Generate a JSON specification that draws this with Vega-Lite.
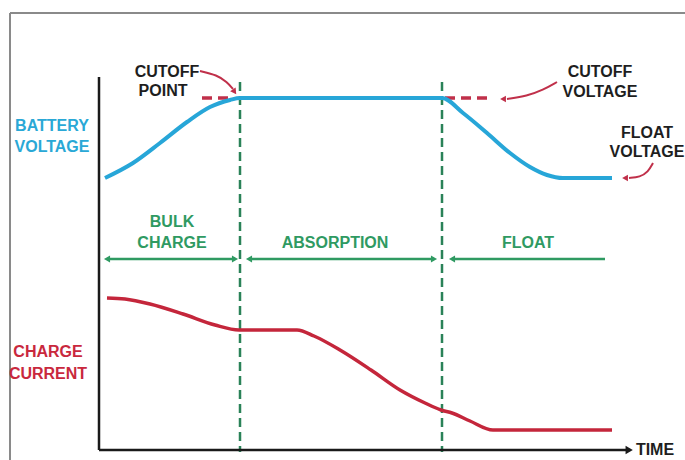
{
  "$schema": "https://vega.github.io/schema/vega-lite/v6.json",
  "width": 685,
  "height": 460,
  "padding": 0,
  "autosize": {"type": "none"},
  "background": "white",
  "config": {"view": {"stroke": null}},
  "datasets": {
    "frame": [
      {"x": 10, "y": 13, "x2": 685, "y2": 13},
      {"x": 10, "y": 13, "x2": 10, "y2": 460}
    ],
    "axes": [
      {"x": 99, "y": 77, "x2": 99, "y2": 450},
      {"x": 99, "y": 450, "x2": 628, "y2": 450}
    ],
    "phaseBounds": [
      {"x": 240, "y": 82, "x2": 240, "y2": 452},
      {"x": 442, "y": 82, "x2": 442, "y2": 452}
    ],
    "phaseSpans": [
      {"x": 107, "y": 259, "x2": 235, "y2": 259},
      {"x": 249, "y": 259, "x2": 434, "y2": 259},
      {"x": 452, "y": 259, "x2": 605, "y2": 259}
    ],
    "phaseHeads": [
      {"x": 108, "y": 259, "heading": 270},
      {"x": 234, "y": 259, "heading": 90},
      {"x": 250, "y": 259, "heading": 270},
      {"x": 433, "y": 259, "heading": 90},
      {"x": 453, "y": 259, "heading": 270}
    ],
    "axisHeads": [
      {"x": 628, "y": 450, "heading": 90}
    ],
    "voltage": [
      {"t": 105, "v": 178}, {"t": 133, "v": 163}, {"t": 160, "v": 143},
      {"t": 187, "v": 122}, {"t": 210, "v": 107}, {"t": 230, "v": 100},
      {"t": 240, "v": 98}, {"t": 442, "v": 98}, {"t": 463, "v": 113},
      {"t": 487, "v": 133}, {"t": 510, "v": 153}, {"t": 530, "v": 167},
      {"t": 547, "v": 175}, {"t": 563, "v": 178}, {"t": 612, "v": 178}
    ],
    "current": [
      {"t": 107, "c": 298}, {"t": 125, "c": 299}, {"t": 150, "c": 304},
      {"t": 183, "c": 314}, {"t": 215, "c": 325}, {"t": 239, "c": 330},
      {"t": 270, "c": 330}, {"t": 297, "c": 330}, {"t": 314, "c": 336},
      {"t": 340, "c": 350}, {"t": 371, "c": 370}, {"t": 400, "c": 390},
      {"t": 425, "c": 403}, {"t": 441, "c": 410}, {"t": 452, "c": 413},
      {"t": 470, "c": 421}, {"t": 493, "c": 430}, {"t": 612, "c": 430}
    ],
    "cutoffDash": [
      {"x": 202, "y": 98, "x2": 232, "y2": 98},
      {"x": 445, "y": 98, "x2": 493, "y2": 98}
    ],
    "pointers": [
      {"id": "a", "o": 0, "x": 200, "y": 71},
      {"id": "a", "o": 1, "x": 217, "y": 75},
      {"id": "a", "o": 2, "x": 227, "y": 82},
      {"id": "a", "o": 3, "x": 233, "y": 89},
      {"id": "b", "o": 0, "x": 557, "y": 82},
      {"id": "b", "o": 1, "x": 543, "y": 90},
      {"id": "b", "o": 2, "x": 527, "y": 96},
      {"id": "b", "o": 3, "x": 507, "y": 99},
      {"id": "c", "o": 0, "x": 653, "y": 163},
      {"id": "c", "o": 1, "x": 648, "y": 172},
      {"id": "c", "o": 2, "x": 640, "y": 177},
      {"id": "c", "o": 3, "x": 629, "y": 178}
    ],
    "pointerHeads": [
      {"x": 234, "y": 91, "heading": 145},
      {"x": 504, "y": 99, "heading": 270},
      {"x": 626, "y": 178, "heading": 270}
    ],
    "labels": [
      {"text": "BATTERY", "x": 52, "y": 126, "group": "voltage"},
      {"text": "VOLTAGE", "x": 52, "y": 147, "group": "voltage"},
      {"text": "CHARGE", "x": 48, "y": 352, "group": "current"},
      {"text": "CURRENT", "x": 48, "y": 374, "group": "current"},
      {"text": "CUTOFF", "x": 167, "y": 72, "group": "note"},
      {"text": "POINT", "x": 163, "y": 91, "group": "note"},
      {"text": "CUTOFF", "x": 600, "y": 72, "group": "note"},
      {"text": "VOLTAGE", "x": 600, "y": 92, "group": "note"},
      {"text": "FLOAT", "x": 647, "y": 133, "group": "note"},
      {"text": "VOLTAGE", "x": 647, "y": 152, "group": "note"},
      {"text": "BULK", "x": 172, "y": 222, "group": "phase"},
      {"text": "CHARGE", "x": 172, "y": 243, "group": "phase"},
      {"text": "ABSORPTION", "x": 335, "y": 243, "group": "phase"},
      {"text": "FLOAT", "x": 528, "y": 243, "group": "phase"},
      {"text": "TIME", "x": 655, "y": 450, "group": "note"}
    ]
  },
  "layer": [
    {
      "data": {"name": "frame"},
      "mark": {"type": "rule", "color": "#8a8a8a", "strokeWidth": 2},
      "encoding": {
        "x": {"field": "x", "type": "quantitative", "scale": {"domain": [0, 685], "nice": false, "zero": false}, "axis": null},
        "y": {"field": "y", "type": "quantitative", "scale": {"domain": [0, 460], "nice": false, "zero": false, "reverse": true}, "axis": null},
        "x2": {"field": "x2"},
        "y2": {"field": "y2"}
      }
    },
    {
      "data": {"name": "phaseBounds"},
      "mark": {"type": "rule", "color": "#2a8258", "strokeWidth": 2.5, "strokeDash": [9, 5]},
      "encoding": {
        "x": {"field": "x", "type": "quantitative", "scale": {"domain": [0, 685], "nice": false, "zero": false}, "axis": null},
        "y": {"field": "y", "type": "quantitative", "scale": {"domain": [0, 460], "nice": false, "zero": false, "reverse": true}, "axis": null},
        "x2": {"field": "x2"},
        "y2": {"field": "y2"}
      }
    },
    {
      "data": {"name": "axes"},
      "mark": {"type": "rule", "color": "#1a1a1a", "strokeWidth": 2.5},
      "encoding": {
        "x": {"field": "x", "type": "quantitative", "scale": {"domain": [0, 685], "nice": false, "zero": false}, "axis": null},
        "y": {"field": "y", "type": "quantitative", "scale": {"domain": [0, 460], "nice": false, "zero": false, "reverse": true}, "axis": null},
        "x2": {"field": "x2"},
        "y2": {"field": "y2"}
      }
    },
    {
      "data": {"name": "axisHeads"},
      "mark": {"type": "point", "shape": "triangle", "filled": true, "color": "#1a1a1a", "size": 70, "opacity": 1},
      "encoding": {
        "x": {"field": "x", "type": "quantitative", "scale": {"domain": [0, 685], "nice": false, "zero": false}, "axis": null},
        "y": {"field": "y", "type": "quantitative", "scale": {"domain": [0, 460], "nice": false, "zero": false, "reverse": true}, "axis": null},
        "angle": {"field": "heading", "type": "quantitative", "scale": null}
      }
    },
    {
      "data": {"name": "phaseSpans"},
      "mark": {"type": "rule", "color": "#2f9a62", "strokeWidth": 2.5},
      "encoding": {
        "x": {"field": "x", "type": "quantitative", "scale": {"domain": [0, 685], "nice": false, "zero": false}, "axis": null},
        "y": {"field": "y", "type": "quantitative", "scale": {"domain": [0, 460], "nice": false, "zero": false, "reverse": true}, "axis": null},
        "x2": {"field": "x2"},
        "y2": {"field": "y2"}
      }
    },
    {
      "data": {"name": "phaseHeads"},
      "mark": {"type": "point", "shape": "triangle", "filled": true, "color": "#2f9a62", "size": 50, "opacity": 1},
      "encoding": {
        "x": {"field": "x", "type": "quantitative", "scale": {"domain": [0, 685], "nice": false, "zero": false}, "axis": null},
        "y": {"field": "y", "type": "quantitative", "scale": {"domain": [0, 460], "nice": false, "zero": false, "reverse": true}, "axis": null},
        "angle": {"field": "heading", "type": "quantitative", "scale": null}
      }
    },
    {
      "data": {"name": "cutoffDash"},
      "mark": {"type": "rule", "color": "#c0304a", "strokeWidth": 3.5, "strokeDash": [10, 6]},
      "encoding": {
        "x": {"field": "x", "type": "quantitative", "scale": {"domain": [0, 685], "nice": false, "zero": false}, "axis": null},
        "y": {"field": "y", "type": "quantitative", "scale": {"domain": [0, 460], "nice": false, "zero": false, "reverse": true}, "axis": null},
        "x2": {"field": "x2"},
        "y2": {"field": "y2"}
      }
    },
    {
      "data": {"name": "voltage"},
      "mark": {"type": "line", "color": "#27a6d8", "strokeWidth": 4, "interpolate": "monotone"},
      "encoding": {
        "x": {"field": "t", "type": "quantitative", "scale": {"domain": [0, 685], "nice": false, "zero": false}, "axis": null},
        "y": {"field": "v", "type": "quantitative", "scale": {"domain": [0, 460], "nice": false, "zero": false, "reverse": true}, "axis": null}
      }
    },
    {
      "data": {"name": "current"},
      "mark": {"type": "line", "color": "#c4263b", "strokeWidth": 3.5, "interpolate": "monotone"},
      "encoding": {
        "x": {"field": "t", "type": "quantitative", "scale": {"domain": [0, 685], "nice": false, "zero": false}, "axis": null},
        "y": {"field": "c", "type": "quantitative", "scale": {"domain": [0, 460], "nice": false, "zero": false, "reverse": true}, "axis": null}
      }
    },
    {
      "data": {"name": "pointers"},
      "mark": {"type": "line", "color": "#c0304a", "strokeWidth": 2, "interpolate": "basis"},
      "encoding": {
        "x": {"field": "x", "type": "quantitative", "scale": {"domain": [0, 685], "nice": false, "zero": false}, "axis": null},
        "y": {"field": "y", "type": "quantitative", "scale": {"domain": [0, 460], "nice": false, "zero": false, "reverse": true}, "axis": null},
        "detail": {"field": "id", "type": "nominal"},
        "order": {"field": "o", "type": "quantitative"}
      }
    },
    {
      "data": {"name": "pointerHeads"},
      "mark": {"type": "point", "shape": "triangle", "filled": true, "color": "#c0304a", "size": 45, "opacity": 1},
      "encoding": {
        "x": {"field": "x", "type": "quantitative", "scale": {"domain": [0, 685], "nice": false, "zero": false}, "axis": null},
        "y": {"field": "y", "type": "quantitative", "scale": {"domain": [0, 460], "nice": false, "zero": false, "reverse": true}, "axis": null},
        "angle": {"field": "heading", "type": "quantitative", "scale": null}
      }
    },
    {
      "data": {"name": "labels"},
      "mark": {"type": "text", "font": "Liberation Sans", "fontWeight": "bold", "fontSize": 16, "align": "center", "baseline": "middle", "letterSpacing": -0.4},
      "encoding": {
        "x": {"field": "x", "type": "quantitative", "scale": {"domain": [0, 685], "nice": false, "zero": false}, "axis": null},
        "y": {"field": "y", "type": "quantitative", "scale": {"domain": [0, 460], "nice": false, "zero": false, "reverse": true}, "axis": null},
        "text": {"field": "text", "type": "nominal"},
        "color": {"field": "group", "type": "nominal", "legend": null,
          "scale": {"domain": ["voltage", "current", "phase", "note"], "range": ["#2aa8d6", "#c9283d", "#2f9a62", "#1e1e1e"]}}
      }
    }
  ]
}
